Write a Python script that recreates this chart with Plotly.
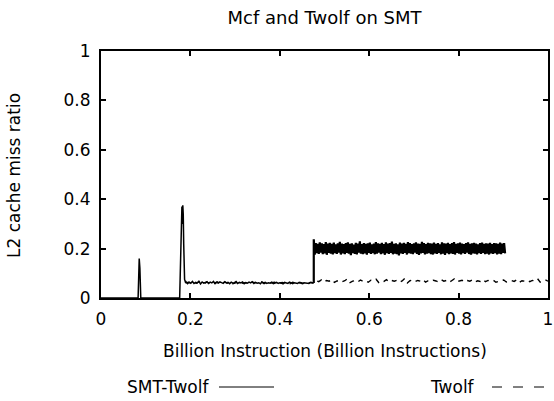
import numpy as np
import plotly.graph_objects as go

# ---- data -------------------------------------------------------------
# SMT-Twolf: start-up phase (x, y) with the two early spikes
smt_head_x = [0.000, 0.005, 0.083, 0.0855, 0.087, 0.089, 0.176, 0.178, 0.180, 0.181,
              0.182, 0.183, 0.184, 0.185, 0.186, 0.187, 0.189]
smt_head_y = [0.000, 0.000, 0.000, 0.160, 0.120, 0.000, 0.000, 0.150, 0.330, 0.370,
              0.300, 0.375, 0.340, 0.220, 0.120, 0.075, 0.064]

# SMT-Twolf: low plateau (x in [0.19, 0.476]) - miss ratio in thousandths
smt_low = ("066 058 064 060 067 059 063 061 068 057 065 060 062 066 059 064 061 067 058 063 "
           "060 065 062 059 066 061 063 058 064 060 062 067 059 063 061 065 058 062 060 064 "
           "061 066 059 063 060 062 058 065 061 063 059 062 060 064 058 061 063 059 062 060 "
           "057 063 061 059 064 060 058 062 061 059 063 060 058 062 060 061 059 062 060 061")
smt_low_range = (0.190, 0.476)

# SMT-Twolf: high plateau (x in [0.476, 0.904]) - alternating peaks / troughs
smt_high_peaks = ("238 222 219 225 221 218 226 220 223 219 224 217 221 227 220 218 222 225 219 221 "
                  "216 223 220 229 218 222 219 221 224 217 220 226 221 219 223 218 225 220 222 228 "
                  "219 221 217 224 220 223 219 226 222 218 221 225 220 219 227 222 218 223 221 220 "
                  "224 219 222 217 225 221 220 223 218 222 226 219 221 224 220 218 222 225 219 221 "
                  "223 220 217 222 224 219 221 220 223 218 222 221 219 224 220 222")
smt_high_troughs = ("176 182 179 184 178 181 175 183 180 177 182 179 184 176 181 178 183 180 173 182 "
                    "179 177 184 180 178 181 176 183 179 182 177 180 184 178 181 175 182 179 183 177 "
                    "180 178 172 181 179 183 176 182 180 178 184 179 175 181 183 177 180 182 178 176 "
                    "181 179 183 177 180 174 182 178 181 179 176 183 180 177 182 179 184 178 176 181 "
                    "180 177 182 179 183 178 180 176 181 179 182 177 180 178 183 181")
smt_high_range = (0.476, 0.904)

# Twolf alone (x in [0.19, 1.0]) - miss ratio in thousandths
twolf_vals = ("061 064 059 063 060 065 062 058 064 061 063 060 066 059 062 064 060 063 058 062 "
              "065 061 060 063 059 064 062 060 061 065 058 063 060 062 064 059 061 063 060 062 "
              "058 064 061 060 063 059 062 061 064 060 "
              "070 066 073 064 071 068 075 063 069 072 066 070 078 062 068 071 065 073 067 070 "
              "064 072 069 076 063 070 067 074 065 071 068 072 064 069 079 061 070 073 066 071 "
              "068 075 064 070 067 072 069 065 074 068 071 063 070 077 066 069 072 065 071 068 "
              "073 064 070 067 075 066 071 069 072 064 068 070 073 065 069 071 067 074 063 070 "
              "068 072 066 071 069 078 064 070 073 068")
twolf_range = (0.190, 1.000)

x_ticks = [0, 0.2, 0.4, 0.6, 0.8, 1]
x_tick_labels = ["0", "0.2", "0.4", "0.6", "0.8", "1"]
y_ticks = [0, 0.2, 0.4, 0.6, 0.8, 1]
y_tick_labels = ["0", "0.2", "0.4", "0.6", "0.8", "1"]


def parse(s):
    return [int(v) / 1000.0 for v in s.split()]


# ---- assemble series --------------------------------------------------
low = parse(smt_low)
low_x = list(np.linspace(smt_low_range[0], smt_low_range[1], len(low)))

peaks = parse(smt_high_peaks)
troughs = parse(smt_high_troughs)
high = [v for pair in zip(peaks, troughs) for v in pair]
high_x = list(np.linspace(smt_high_range[0], smt_high_range[1], len(high)))

smt_x = smt_head_x + low_x
smt_y = smt_head_y + low

tw = parse(twolf_vals)
tw_x = list(np.linspace(twolf_range[0], twolf_range[1], len(tw)))

FONT = "DejaVu Sans"
FS = 17

fig = go.Figure()
fig.add_trace(go.Scatter(x=tw_x, y=tw, mode="lines", name="Twolf",
                         line=dict(color="black", width=1.4, dash="5px,5px"),
                         showlegend=False))
fig.add_trace(go.Scatter(x=smt_x, y=smt_y, mode="lines", name="SMT-Twolf",
                         line=dict(color="black", width=1.5),
                         showlegend=False))
# dense oscillating section of SMT-Twolf, joined to the low plateau
fig.add_trace(go.Scatter(x=[smt_x[-1]] + high_x, y=[smt_y[-1]] + high, mode="lines",
                         name="SMT-Twolf", line=dict(color="black", width=2.2),
                         showlegend=False))

axis_common = dict(
    range=[0, 1], showgrid=False, zeroline=False, automargin=False,
    showline=True, linecolor="black", linewidth=2, mirror="ticks",
    ticks="inside", ticklen=5, tickwidth=2, tickcolor="black",
    tickfont=dict(family=FONT, size=FS, color="black"),
)

fig.update_xaxes(**axis_common, tickvals=x_ticks, ticktext=x_tick_labels,
                 ticklabelstandoff=5)
fig.update_yaxes(**axis_common, tickvals=y_ticks, ticktext=y_tick_labels,
                 ticklabelstandoff=5)

L, T, W, H = 101, 51, 447, 247


def px(x):
    return (x - L) / W


def py(y):
    return (T + H - y) / H


# axis titles
fig.add_annotation(x=px(325), y=py(351), xref="paper", yref="paper",
                   text="Billion Instruction (Billion Instructions)", showarrow=False,
                   xanchor="center", yanchor="middle",
                   font=dict(family=FONT, size=FS, color="black"))
fig.add_annotation(x=px(14), y=py(176), xref="paper", yref="paper",
                   text="L2 cache miss ratio", showarrow=False, textangle=-90,
                   xanchor="center", yanchor="middle",
                   font=dict(family=FONT, size=FS, color="black"))

# key drawn gnuplot-style: label on the left, line sample on the right
key_y = 387
fig.add_annotation(x=px(211), y=py(key_y), xref="paper", yref="paper",
                   text="SMT-Twolf", showarrow=False, xanchor="right", yanchor="middle",
                   font=dict(family=FONT, size=FS, color="black"))
fig.add_shape(type="line", xref="paper", yref="paper",
              x0=px(219), x1=px(274), y0=py(key_y), y1=py(key_y),
              line=dict(color="black", width=1))
fig.add_annotation(x=px(477), y=py(key_y), xref="paper", yref="paper",
                   text="Twolf", showarrow=False, xanchor="right", yanchor="middle",
                   font=dict(family=FONT, size=FS, color="black"))
fig.add_shape(type="line", xref="paper", yref="paper",
              x0=px(492), x1=px(545), y0=py(key_y), y1=py(key_y),
              line=dict(color="black", width=1, dash="10px,11px"))

fig.update_layout(
    width=554, height=401,
    margin=dict(l=L, r=554 - L - W, t=T, b=401 - T - H),
    paper_bgcolor="white", plot_bgcolor="white",
    title=dict(text="Mcf and Twolf on SMT", x=(L + W / 2) / 554, xanchor="center",
               y=1 - 18 / 401, yanchor="middle",
               font=dict(family=FONT, size=18, color="black")),
    font=dict(family=FONT, color="black"),
)

fig.write_html("out.html")
